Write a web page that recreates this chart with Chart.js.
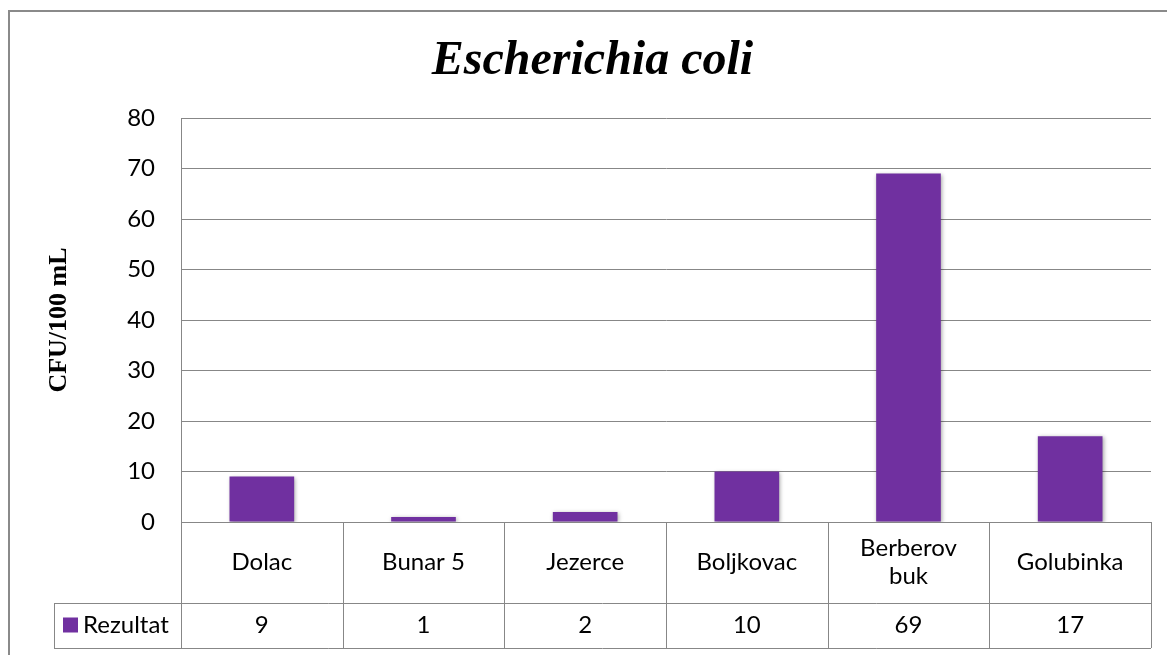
<!DOCTYPE html>
<html>
<head>
<meta charset="utf-8">
<script src="https://cdn.jsdelivr.net/npm/chart.js@4.4.0/dist/chart.umd.min.js"></script>
<style>
  body { margin: 0; background: #fff; }
  canvas { display: block; }
</style>
</head>
<body>
<canvas id="ecoliChart" width="1167" height="655"></canvas>
<script>
// data
const categories = ["Dolac", "Bunar 5", "Jezerce", "Boljkovac", ["Berberov", "buk"], "Golubinka"];
const rezultat = [9, 1, 2, 10, 69, 17];
const seriesName = "Rezultat";
const yMin = 0;
const yMax = 80;
const yStep = 10;

const barColor = "#7030a0";
const lineColor = "#878787";
const labelFont = "Lato, 'Open Sans', sans-serif";

// frame round the whole chart
const framePlugin = {
    id: "frame",
    beforeDraw(chart) {
        const ctx = chart.ctx;
        ctx.save();
        ctx.fillStyle = "#fff";
        ctx.fillRect(0, 0, chart.width, chart.height);
        ctx.strokeStyle = "#8a8a8a";
        ctx.lineWidth = 2;
        ctx.strokeRect(9, 11, chart.width + 20, chart.height + 20);
        ctx.restore();
    }
};

// soft shadow under the bars
const shadowPlugin = {
    id: "barShadow",
    beforeDatasetsDraw(chart) {
        const ctx = chart.ctx;
        ctx.save();
        ctx.shadowColor = "rgba(0,0,0,0.35)";
        ctx.shadowBlur = 4;
        ctx.shadowOffsetX = 1;
        ctx.shadowOffsetY = 1;
    },
    afterDatasetsDraw(chart) {
        chart.ctx.restore();
    }
};

// data table under the x axis (categories + values + legend key)
const tablePlugin = {
    id: "dataTable",
    afterDraw(chart) {
        const ctx = chart.ctx;
        const area = chart.chartArea;
        const xs = chart.scales.x;
        const half = (xs.getPixelForValue(1) - xs.getPixelForValue(0)) / 2;
        const catTop = area.bottom;
        const catBottom = catTop + 81;
        const valBottom = catBottom + 45;
        const legendLeft = 54;

        ctx.save();
        ctx.strokeStyle = lineColor;
        ctx.lineWidth = 1;
        ctx.beginPath();
        // verticals
        ctx.moveTo(area.left + 0.5, catTop);
        ctx.lineTo(area.left + 0.5, valBottom);
        for (let i = 0; i < categories.length; i++) {
            const x = Math.round(xs.getPixelForValue(i) + half) + 0.5;
            ctx.moveTo(x, catTop);
            ctx.lineTo(x, valBottom);
        }
        ctx.moveTo(legendLeft + 0.5, catBottom);
        ctx.lineTo(legendLeft + 0.5, valBottom);
        // horizontals
        ctx.moveTo(legendLeft, catBottom + 0.5);
        ctx.lineTo(area.right, catBottom + 0.5);
        ctx.moveTo(legendLeft, valBottom + 0.5);
        ctx.lineTo(area.right, valBottom + 0.5);
        ctx.stroke();

        ctx.fillStyle = "#000";
        ctx.font = "24px " + labelFont;
        ctx.textAlign = "center";
        ctx.textBaseline = "middle";
        const catMid = (catTop + catBottom) / 2;
        const valMid = (catBottom + valBottom) / 2;
        categories.forEach((cat, i) => {
            const x = xs.getPixelForValue(i);
            const lines = Array.isArray(cat) ? cat : [cat];
            lines.forEach((line, j) => {
                ctx.fillText(line, x, catMid + (j - (lines.length - 1) / 2) * 28);
            });
            ctx.fillText(String(rezultat[i]), x, valMid);
        });

        // legend key
        ctx.fillStyle = barColor;
        ctx.fillRect(63, valMid - 8, 15, 15);
        ctx.fillStyle = "#000";
        ctx.textAlign = "left";
        ctx.fillText(seriesName, 83, valMid);
        ctx.restore();
    }
};

const chart = new Chart(document.getElementById("ecoliChart"), {
    type: "bar",
    data: {
        labels: categories,
        datasets: [{
            label: seriesName,
            data: rezultat,
            backgroundColor: barColor,
            borderWidth: 0,
            barPercentage: 0.4,
            categoryPercentage: 1
        }]
    },
    options: {
        responsive: false,
        animation: false,
        devicePixelRatio: 1,
        layout: { padding: { left: 34, top: 0, right: 16, bottom: 133 } },
        plugins: {
            legend: { display: false },
            tooltip: { enabled: false },
            title: {
                display: true,
                text: "Escherichia coli",
                color: "#000",
                font: { family: "'Liberation Serif', 'Times New Roman', serif", size: 48, style: "italic", weight: "bold", lineHeight: 1.2 },
                padding: { top: 32.7, bottom: 27.7 }
            }
        },
        scales: {
            x: {
                display: false,
                offset: true
            },
            y: {
                min: yMin,
                max: yMax,
                afterFit(scale) { scale.width = 147; },
                ticks: {
                    stepSize: yStep,
                    padding: 26,
                    color: "#000",
                    font: { family: labelFont, size: 24 }
                },
                grid: { color: lineColor, lineWidth: 1, drawTicks: false },
                border: { display: true, color: lineColor, width: 1 },
                title: {
                    display: true,
                    text: "CFU/100 mL",
                    color: "#000",
                    font: { family: "'Liberation Serif', 'Times New Roman', serif", size: 26, weight: "bold", lineHeight: 1.2 },
                    padding: { top: 9.4, bottom: 0 }
                }
            }
        }
    },
    plugins: [framePlugin, shadowPlugin, tablePlugin]
});
</script>
</body>
</html>
